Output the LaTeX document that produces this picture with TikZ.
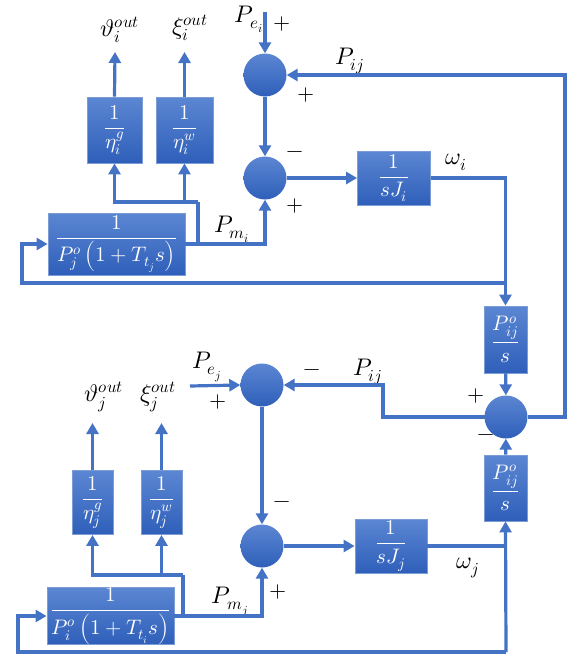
\documentclass[tikz,border=0pt]{standalone}
\usepackage{amsmath}
\usepackage{unicode-math}
\setmathfont{Latin Modern Math}
\usepackage{xcolor}
\usetikzlibrary{arrows.meta,calc}
\definecolor{lineblue}{HTML}{4472C4}
\definecolor{boxtop}{HTML}{5B86D2}
\definecolor{boxbot}{HTML}{2F5FBA}
\tikzset{
	blk/.style={
			draw=lineblue!70!white, line width=0.8pt, top color=boxtop, bottom color=boxbot,
			text=white, inner sep=0pt, font=\fontsize{21}{24}\selectfont
		},
	sumnode/.style={circle, minimum size=43pt, inner sep=0pt, top color=boxtop, bottom color=boxbot},
	wire/.style={lineblue, line width=3.2pt},
	sig/.style={wire, -{Triangle[length=11pt,width=12pt]}},
	lbl/.style={font=\fontsize{24}{28}\selectfont, inner sep=1pt},
	sgn/.style={font=\fontsize{22}{24}\selectfont, inner sep=0pt}
}

\begin{document}
\begin{tikzpicture}[x=1pt, y=-1pt]
        \useasboundingbox (0,0) rectangle (581,657);

        % Summing junctions
        \node[sumnode] (sumA) at (265,75) {};
        \node[sumnode] (sumB) at (265,178) {};
        \node[sumnode] (sumC) at (506,417) {};
        \node[sumnode] (sumD) at (262,385) {};
        \node[sumnode] (sumE) at (262,546) {};

        % Blocks of area i
        \node[blk, minimum width=55pt, minimum height=66pt] (etagi) at (114.5,130) {$\dfrac{1}{\eta_i^g}$};
        \node[blk, minimum width=57pt, minimum height=66pt] (etawi) at (184.5,130) {$\dfrac{1}{\eta_i^w}$};
        \node[blk, minimum width=137pt, minimum height=62pt] (bigA) at (116.5,244) {$\dfrac{1}{P_j^o\left(1+T_{t_j}s\right)}$};
        \node[blk, minimum width=73pt, minimum height=54pt] (sJi) at (394,178) {$\dfrac{1}{sJ_i}$};

        % Tie-line blocks
        \node[blk, minimum width=43pt, minimum height=67pt] (Pi1) at (505.5,339.5) {$\dfrac{P_{ij}^o}{s}$};
        \node[blk, minimum width=43pt, minimum height=66pt] (Pi2) at (505.5,488) {$\dfrac{P_{ij}^o}{s}$};

        % Blocks of area j
        \node[blk, minimum width=41pt, minimum height=64pt] (etagj) at (92.5,502.5) {$\dfrac{1}{\eta_j^g}$};
        \node[blk, minimum width=41pt, minimum height=64pt] (etawj) at (161.5,502.5) {$\dfrac{1}{\eta_j^w}$};
        \node[blk, minimum width=127pt, minimum height=54pt] (bigB) at (110.5,616) {$\dfrac{1}{P_i^o\left(1+T_{t_i}s\right)}$};
        \node[blk, minimum width=72pt, minimum height=54pt] (sJj) at (391,546) {$\dfrac{1}{sJ_j}$};

        % Signal labels
        \node[lbl] (Pei) at (249,19) {$P_{e_i}$};
        \node[lbl] (Pijtop) at (350,61) {$P_{ij}$};
        \node[lbl] (wi) at (456,162) {$\omega_i$};
        \node[lbl] (Pmi) at (232,229) {$P_{m_i}$};
        \node[lbl] (outgi) at (120,30) {$\vartheta_i^{out}$};
        \node[lbl] (outwi) at (190,28) {$\xi_i^{out}$};
        \node[lbl] (Pijbot) at (368,372) {$P_{ij}$};
        \node[lbl] (wj) at (468,568) {$\omega_j$};
        \node[lbl] (Pmj) at (230,602) {$P_{m_j}$};
        \node[lbl] (Pej) at (207,367) {$P_{e_j}$};
        \node[lbl] (outgj) at (104,397) {$\vartheta_j^{out}$};
        \node[lbl] (outwj) at (158,397) {$\xi_j^{out}$};

        % Signs
        \node[sgn] at (282,24) {$+$};
        \node[sgn] at (306,95) {$+$};
        \node[sgn] at (295,155) {$-$};
        \node[sgn] at (295,206) {$+$};
        \node[sgn] at (312,373) {$-$};
        \node[sgn] at (218,402) {$+$};
        \node[sgn] at (282,505) {$-$};
        \node[sgn] at (278,592) {$+$};
        \node[sgn] at (476,396) {$+$};
        \node[sgn] at (486,438) {$-$};

        % Free ends and corners
        \coordinate (inA) at (265,12);
        \coordinate (rtop) at (565,75);
        \coordinate (kink) at (383,385);
        \coordinate (tapi) at (506,283);
        \coordinate (fbi) at (22,283);
        \coordinate (brA) at (198,244);
        \coordinate (brA2) at (198,202);
        \coordinate (inD) at (190,386);
        \coordinate (tapj) at (506,652);
        \coordinate (fbj) at (18,652);
        \coordinate (brB) at (183,616);
        \coordinate (brB2) at (183,575);

        % Area i loop
        \draw[sig] (inA) -- (sumA.north);
        \draw[sig] (sumA) -- (sumB);
        \draw[sig] (sumB) -- (sJi);
        \draw[sig] (sJi.east) -| (Pi1.north);
        \draw[sig] (tapi) -- (fbi) |- (bigA.west);
        \draw[sig] (bigA.east) -| (sumB.south);
        \draw[wire] (brA) -- (brA2);
        \draw[sig] (brA2) -| (etagi.south);
        \draw[sig] (etawi.south |- brA2) -- (etawi.south);
        \draw[sig] (etagi.north) -- (115,52);
        \draw[sig] (etawi.north) -- (184.5,52);

        % Tie-line
        \draw[sig] (Pi1) -- (sumC);
        \draw[sig] (Pi2) -- (sumC);
        \draw[sig] (sumC.east) -| (rtop) -- (sumA.east);
        \draw[sig] (sumC.west) -| (kink) -- (sumD.east);

        % Area j loop
        \draw[sig] (inD) -- (sumD.west);
        \draw[sig] (sumD) -- (sumE);
        \draw[sig] (sumE) -- (sJj);
        \draw[wire] (sJj.east) -- (sJj.east -| tapj);
        \draw[sig] (tapj) -- (Pi2.south);
        \draw[sig] (tapj) -- (fbj) |- (bigB.west);
        \draw[sig] (bigB.east) -| (sumE.south);
        \draw[wire] (brB) -- (brB2);
        \draw[sig] (brB2) -| (etagj.south);
        \draw[sig] (etawj.south |- brB2) -- (etawj.south);
        \draw[sig] (etagj.north) -- (92.5,423);
        \draw[sig] (etawj.north) -- (161.5,423);

    \end{tikzpicture}
\end{document}
